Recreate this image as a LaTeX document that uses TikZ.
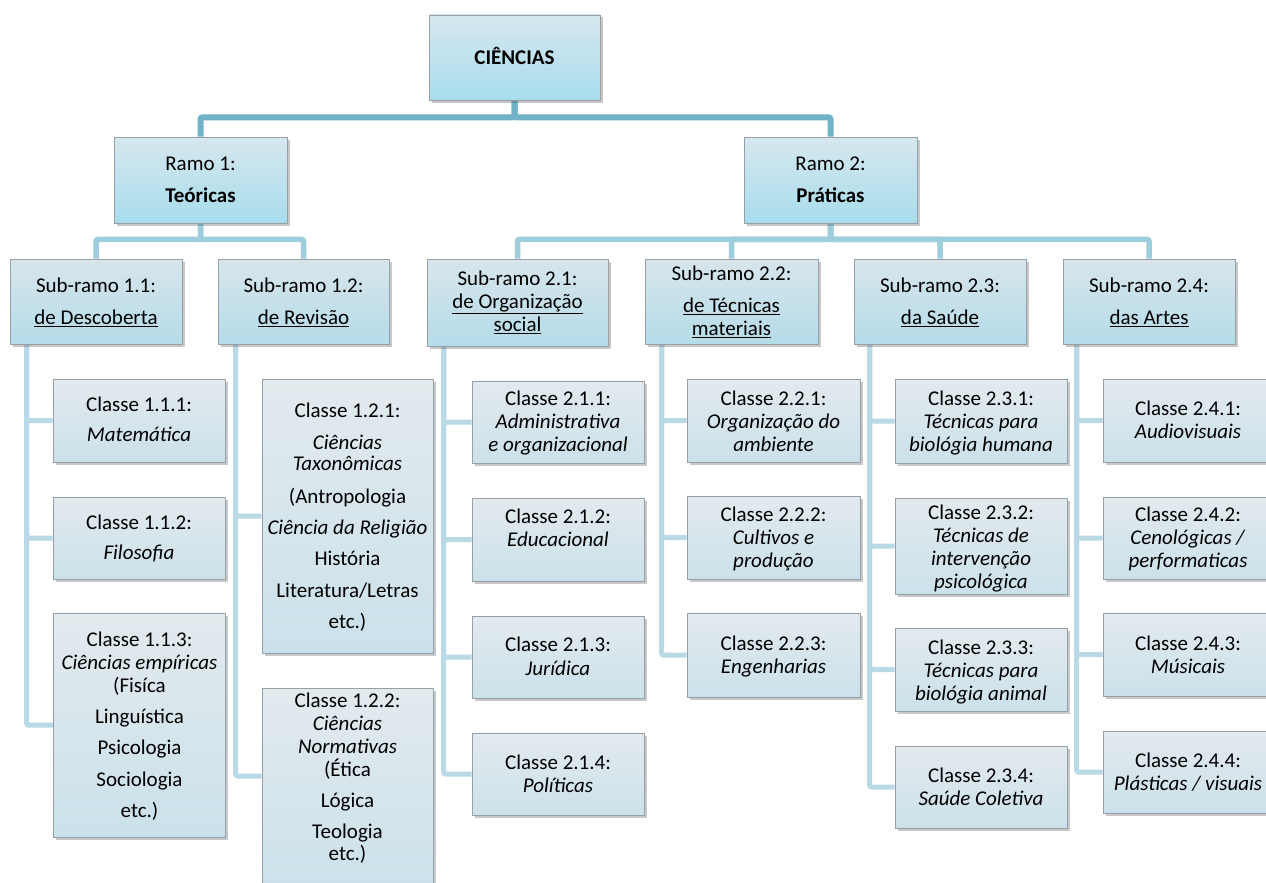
\documentclass[tikz,border=0pt]{standalone}
\usepackage{fontspec}
\setmainfont{Carlito}
\usetikzlibrary{shadows,calc}
\pgfdeclarelayer{bg}
\pgfdeclarelayer{paper}
\pgfsetlayers{paper,bg,main}
\definecolor{lineA}{RGB}{112,178,200}
\definecolor{lineB}{RGB}{158,205,220}
\definecolor{lineC}{RGB}{184,217,229}
\definecolor{bdr}{RGB}{150,160,166}
\definecolor{topA}{RGB}{214,231,238}
\definecolor{botA}{RGB}{168,221,237}
\definecolor{topB}{RGB}{216,229,235}
\definecolor{botB}{RGB}{180,220,233}
\definecolor{topC}{RGB}{227,234,238}
\definecolor{botC}{RGB}{203,225,234}
\tikzset{
  boxbase/.style={draw=bdr, line width=0.8pt, inner sep=0pt,
    drop shadow={shadow xshift=2.5pt, shadow yshift=-2.5pt, opacity=0.3, fill=black!70}},
  boxA/.style={boxbase, top color=topA, bottom color=botA},
  boxB/.style={boxbase, top color=topB, bottom color=botB},
  boxC/.style={boxbase, top color=topC, bottom color=botC, minimum width=172pt},
  txt/.style={anchor=north, inner sep=0pt, align=center, font=\fontsize{21}{23}\selectfont},
  connA/.style={draw=lineA, line width=6pt, rounded corners=2pt},
  connB/.style={draw=lineB, line width=5.5pt, rounded corners=2pt},
  connC/.style={draw=lineC, line width=5pt, rounded corners=2pt},
}
\begin{document}
\begin{tikzpicture}[x=1pt,y=-1pt]
\useasboundingbox (0,0) rectangle (1266,883);
\begin{pgfonlayer}{paper}
\fill[white] (0,0) rectangle (1266,883);
\end{pgfonlayer}
% level 0 and 1
\node[boxA, minimum width=171pt, minimum height=85pt] (cien) at (514.5,57.5) {};
\node[boxA, minimum width=173pt, minimum height=86pt] (r1) at (200.5,180) {};
\node[boxA, minimum width=173pt, minimum height=86pt] (r2) at (830.5,180) {};
% sub-ramos
\node[boxB, minimum width=172pt, minimum height=85pt] (s11) at (96,301.5) {};
\node[boxB, minimum width=171pt, minimum height=85pt] (s12) at (303.5,301.5) {};
\node[boxB, minimum width=181pt, minimum height=87pt] (s21) at (517.5,302.5) {};
\node[boxB, minimum width=173pt, minimum height=85pt] (s22) at (731.5,301.5) {};
\node[boxB, minimum width=172pt, minimum height=85pt] (s23) at (940,301.5) {};
\node[boxB, minimum width=172pt, minimum height=85pt] (s24) at (1149,301.5) {};
% classes
\node[boxC, minimum height=83pt] (c111) at (139,420.5) {};
\node[boxC, minimum height=82pt] (c112) at (139,538) {};
\node[boxC, minimum height=224pt] (c113) at (139.5,725) {};
\node[boxC, minimum width=171pt, minimum height=274pt] (c121) at (347.5,516) {};
\node[boxC, minimum width=171pt, minimum height=202pt] (c122) at (347.5,789) {};
\node[boxC, minimum height=82pt] (c211) at (558,422) {};
\node[boxC, minimum height=83pt] (c212) at (558,539.5) {};
\node[boxC, minimum height=82pt] (c213) at (558,657) {};
\node[boxC, minimum height=82pt] (c214) at (558,774) {};
\node[boxC, minimum width=173pt, minimum height=83pt] (c221) at (773.5,420.5) {};
\node[boxC, minimum width=173pt, minimum height=83pt] (c222) at (773.5,537.5) {};
\node[boxC, minimum width=173pt, minimum height=84pt] (c223) at (773.5,655) {};
\node[boxC, minimum height=84pt] (c231) at (981,421) {};
\node[boxC, minimum height=96pt] (c232) at (981,546) {};
\node[boxC, minimum height=83pt] (c233) at (981,669.5) {};
\node[boxC, minimum height=82pt] (c234) at (981,787) {};
\node[boxC, minimum height=83pt] (c241) at (1189,420.5) {};
\node[boxC, minimum height=82pt] (c242) at (1189,538) {};
\node[boxC, minimum height=83pt] (c243) at (1189,654.5) {};
\node[boxC, minimum height=82pt] (c244) at (1189,772) {};
% texts
\node[txt] (tcien) at (514.5,47) {\strut\textbf{CIÊNCIAS}};
\node[txt] (tr1) at (200.5,154) {\strut Ramo 1:\\[9pt]\textbf{Teóricas}};
\node[txt] (tr2) at (830.5,154) {\strut Ramo 2:\\[9pt]\textbf{Práticas}};
\node[txt] (ts11) at (96,276) {\strut Sub-ramo 1.1:\\[9pt]\underline{de Descoberta}};
\node[txt] (ts12) at (303.5,276) {\strut Sub-ramo 1.2:\\[9pt]\underline{de Revisão}};
\node[txt] (ts21) at (517.5,269) {\strut Sub-ramo 2.1:\\\underline{de Organização}\\\underline{social}};
\node[txt] (ts22) at (731.5,264) {\strut Sub-ramo 2.2:\\[9pt]\underline{de Técnicas}\\\underline{materiais}};
\node[txt] (ts23) at (940,276) {\strut Sub-ramo 2.3:\\[9pt]\underline{da Saúde}};
\node[txt] (ts24) at (1149,276) {\strut Sub-ramo 2.4:\\[9pt]\underline{das Artes}};
\node[txt] (tc111) at (139,395) {\strut Classe 1.1.1:\\[7pt]\textit{Matemática}};
\node[txt] (tc112) at (139,513) {\strut Classe 1.1.2:\\[7pt]\textit{Filosofia}};
\node[txt] (tc113) at (139.5,630) {\strut Classe 1.1.3:\\\textit{Ciências empíricas}\\(Fisíca\\[8pt]Linguística\\[8pt]Psicologia\\[9pt]Sociologia\\[8pt]etc.)};
\node[txt] (tc121) at (347.5,401) {\strut Classe 1.2.1:\\[9pt]\textit{Ciências}\\[-2pt]\textit{Taxonômicas}\\[10pt](Antropologia\\[8pt]\textit{Ciência da Religião}\\[8pt]História\\[9pt]Literatura/Letras\\[8pt]etc.)};
\node[txt] (tc122) at (347.5,691) {\strut Classe 1.2.2:\\\textit{Ciências}\\\textit{Normativas}\\(Ética\\[8pt]Lógica\\[8pt]Teologia\\[-1pt]etc.)};
\node[txt] (tc211) at (558,389) {\strut Classe 2.1.1:\\\textit{Administrativa}\\\textit{e organizacional}};
\node[txt] (tc212) at (558,507) {\strut Classe 2.1.2:\\\textit{Educacional}};
\node[txt] (tc213) at (558,635) {\strut Classe 2.1.3:\\[1pt]\textit{Jurídica}};
\node[txt] (tc214) at (558,753) {\strut Classe 2.1.4:\\\textit{Políticas}};
\node[txt] (tc221) at (773.5,389) {\strut Classe 2.2.1:\\\textit{Organização do}\\\textit{ambiente}};
\node[txt] (tc222) at (773.5,505) {\strut Classe 2.2.2:\\\textit{Cultivos e}\\\textit{produção}};
\node[txt] (tc223) at (773.5,634) {\strut Classe 2.2.3:\\\textit{Engenharias}};
\node[txt] (tc231) at (981,389) {\strut Classe 2.3.1:\\\textit{Técnicas para}\\\textit{biológia humana}};
\node[txt] (tc232) at (981,503) {\strut Classe 2.3.2:\\\textit{Técnicas de}\\\textit{intervenção}\\\textit{psicológica}};
\node[txt] (tc233) at (981,638) {\strut Classe 2.3.3:\\\textit{Técnicas para}\\\textit{biológia animal}};
\node[txt] (tc234) at (981,766) {\strut Classe 2.3.4:\\\textit{Saúde Coletiva}};
\node[txt] (tc241) at (1188,399) {\strut Classe 2.4.1:\\\textit{Audiovisuais}};
\node[txt] (tc242) at (1188,505) {\strut Classe 2.4.2:\\\textit{Cenológicas /}\\\textit{performaticas}};
\node[txt] (tc243) at (1188,634) {\strut Classe 2.4.3:\\\textit{Músicais}};
\node[txt] (tc244) at (1188,751) {\strut Classe 2.4.4:\\\textit{Plásticas / visuais}};
% connectors
\begin{pgfonlayer}{bg}
\draw[connA] (cien.south) -- ++(0,17) -| (r1.north);
\draw[connA] (cien.south) -- ++(0,17) -| (r2.north);
\draw[connB] (r1.south) -- ++(0,16) -| (s11.north);
\draw[connB] (r1.south) -- ++(0,16) -| (s12.north);
\draw[connB] (r2.south) -- ++(0,16) -| (s21.north);
\draw[connB] (r2.south) -- ++(0,16) -| (s22.north);
\draw[connB] (r2.south) -- ++(0,16) -| (s23.north);
\draw[connB] (r2.south) -- ++(0,16) -| (s24.north);
\coordinate (s11b) at ([xshift=17pt]s11.south west);
\coordinate (s12b) at ([xshift=18pt]s12.south west);
\coordinate (s21b) at ([xshift=17pt]s21.south west);
\coordinate (s22b) at ([xshift=17pt]s22.south west);
\coordinate (s23b) at ([xshift=16pt]s23.south west);
\coordinate (s24b) at ([xshift=14pt]s24.south west);
\draw[connC] (s11b) |- (c111.west);
\draw[connC] (s11b) |- (c112.west);
\draw[connC] (s11b) |- (c113.west);
\draw[connC] (s12b) |- (c121.west);
\draw[connC] (s12b) |- ([yshift=13pt]c122.west);
\draw[connC] (s21b) |- (c211.west);
\draw[connC] (s21b) |- (c212.west);
\draw[connC] (s21b) |- (c213.west);
\draw[connC] (s21b) |- (c214.west);
\draw[connC] (s22b) |- (c221.west);
\draw[connC] (s22b) |- (c222.west);
\draw[connC] (s22b) |- (c223.west);
\draw[connC] (s23b) |- (c231.west);
\draw[connC] (s23b) |- (c232.west);
\draw[connC] (s23b) |- (c233.west);
\draw[connC] (s23b) |- (c234.west);
\draw[connC] (s24b) |- (c241.west);
\draw[connC] (s24b) |- (c242.west);
\draw[connC] (s24b) |- (c243.west);
\draw[connC] (s24b) |- (c244.west);
\end{pgfonlayer}
\end{tikzpicture}
\end{document}
